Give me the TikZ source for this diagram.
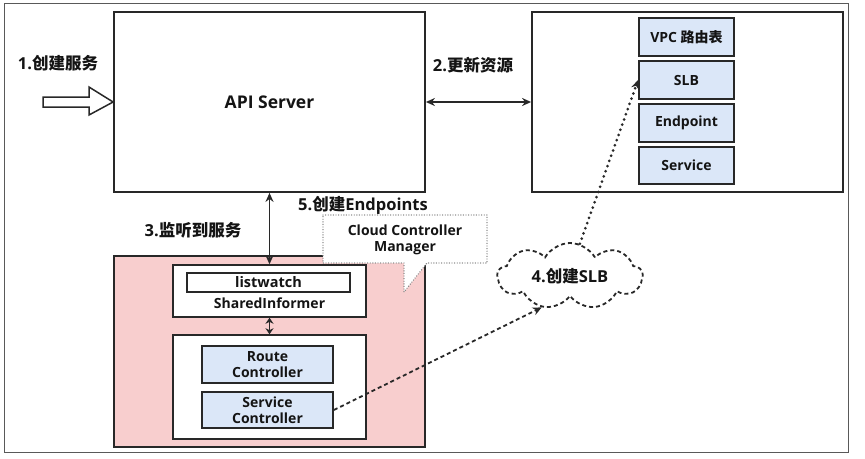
\documentclass[tikz,border=0pt]{standalone}
\usepackage{fontspec}
\setmainfont{Open Sans}
\newfontfamily\cjk{Noto Sans CJK SC}
\usetikzlibrary{arrows.meta,shapes.symbols}
\definecolor{edge}{RGB}{40,40,40}
\definecolor{pinkfill}{RGB}{248,206,206}
\definecolor{bluefill}{RGB}{219,231,248}
\definecolor{txt}{RGB}{20,20,20}
\tikzset{
  box/.style={draw=edge,line width=1.8pt,fill=white,inner sep=0pt},
  bluebox/.style={draw=edge,line width=1.8pt,fill=bluefill,inner sep=0pt,minimum width=95pt,
    font=\bfseries\fontsize{14}{16}\selectfont,text=txt,align=center},
  ctlbox/.style={bluebox,minimum width=131pt,font=\bfseries\fontsize{14}{15.5}\selectfont},
  lbl/.style={font=\bfseries\fontsize{16.5}{19}\selectfont,text=txt,inner sep=0pt},
  tip/.style={-{Stealth[length=9pt,width=8pt]}},
  dtip/.style={{Stealth[length=9pt,width=8pt]}-{Stealth[length=9pt,width=8pt]}},
  conn/.style={draw=edge,line width=1.8pt}
}
\begin{document}
\begin{tikzpicture}[x=1pt,y=-1pt]
\useasboundingbox (0,0) rectangle (865,458);
\fill[white] (0,0) rectangle (865,458);
\draw[gray!70!black,line width=1pt] (4,3) rectangle (848,452);

% API server
\node[box,minimum width=311pt,minimum height=180pt,font=\bfseries\fontsize{17.5}{20}\selectfont,text=txt] (api) at (269.5,102) {API Server};

% right resource box
\node[box,minimum width=311pt,minimum height=180pt] (res) at (687.5,102) {};
\node[bluebox,minimum height=38pt] (vpc) at (686.5,37) {VPC {\cjk\bfseries 路由表}};
\node[bluebox,minimum height=38pt] (slb) at (686.5,80) {SLB};
\node[bluebox,minimum height=38pt] (ep) at (686.5,123) {Endpoint};
\node[bluebox,minimum height=37pt] (svc) at (686.5,165.5) {Service};

% labels
\node[lbl] (l1) at (58,63) {1.{\cjk\bfseries 创建服务}};
\node[lbl] (l2) at (473,65) {2.{\cjk\bfseries 更新资源}};
\node[lbl] (l3) at (193,230) {3.{\cjk\bfseries 监听到服务}};
\node[lbl] (l5) at (363,205) {5.{\cjk\bfseries 创建}Endpoints};

% block arrow
\coordinate (bt) at (api.west);
\draw[edge,line width=1.5pt,fill=white,line join=miter]
  (43,97) -- (89,97) -- (89,87) -- (bt) -- (89,115) -- (89,107) -- (43,107) -- cycle;

% API <-> res
\draw[conn,dtip] (api.east) -- (res.west);

% CCM pink region
\node[draw=edge,line width=1.5pt,fill=pinkfill,minimum width=311pt,minimum height=191pt,inner sep=0pt] (ccm) at (269.5,351.5) {};

% callout
\draw[gray,line width=1.4pt,line cap=round,dash pattern=on 0pt off 2.6pt,fill=white]
  (323,215) -- (487,215) -- (487,263) -- (427,263) -- (404,292) -- (404,263) -- (323,263) -- cycle;
\node[font=\bfseries\fontsize{14}{16}\selectfont,text=txt,align=center] (ccmlbl) at (405,240) {Cloud Controller\\Manager};

% SharedInformer
\node[box,line width=1.5pt,minimum width=193pt,minimum height=52pt] (si) at (269.5,291) {};
\node[draw=edge,line width=1.5pt,fill=white,minimum width=163pt,minimum height=19pt,inner sep=0pt,
  font=\bfseries\fontsize{14.5}{16}\selectfont,text=txt] (lw) at (268.5,282.5) {listwatch};
\node[font=\bfseries\fontsize{14}{16}\selectfont,text=txt,inner sep=0pt] (sitxt) at (269.5,303.5) {SharedInformer};

% controllers
\node[box,line width=1.5pt,minimum width=193pt,minimum height=104pt] (ctl) at (269.5,387) {};
\node[ctlbox,minimum height=37pt] (rc) at (267.5,364.5) {Route\\Controller};
\node[ctlbox,minimum height=36pt] (sc) at (267.5,410) {Service\\Controller};

% API <-> SharedInformer
\draw[conn,dtip] (api.south) -- (si.north);
\draw[conn,{Stealth[length=6pt,width=8pt]}-{Stealth[length=6pt,width=8pt]}] (si.south) -- (ctl.north);

% cloud
\node[cloud,cloud puffs=9,cloud puff arc=120,aspect=2.3,draw=edge,dash pattern=on 4pt off 3pt,line width=1.8pt,fill=white,
  minimum width=145pt,minimum height=66pt,inner sep=0pt,font=\bfseries\fontsize{16.5}{19}\selectfont,text=txt] (cl) at (570,276) {4.{\cjk\bfseries 创建}SLB};

\draw[conn,dash pattern=on 4pt off 3pt,tip] (sc.east) -- (cl.228);
\draw[conn,line width=3pt,line cap=round,dash pattern=on 0pt off 5.5pt,-{Stealth[length=9pt,width=8pt,line cap=butt]}] (cl.73) -- (slb.west);
\end{tikzpicture}
\end{document}
